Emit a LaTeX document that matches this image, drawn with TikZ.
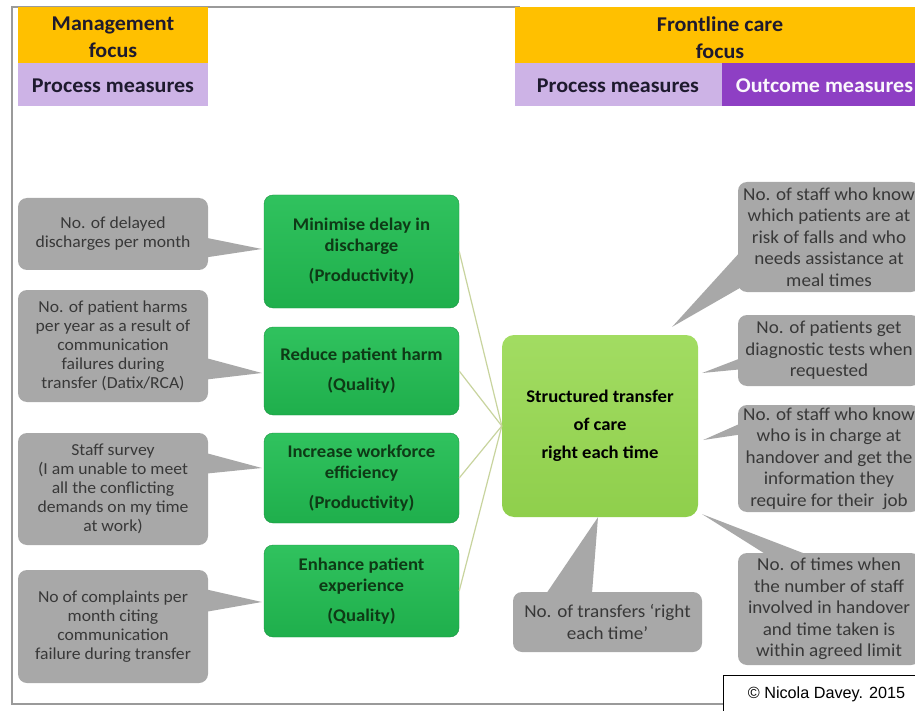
\documentclass[tikz,border=0pt]{standalone}
\usepackage{fontspec}
\setmainfont{Carlito}[FakeStretch=1.05]
\newfontfamily\arialfont{Liberation Sans}
\usetikzlibrary{calc}

\definecolor{hdrorange}{HTML}{FFC000}
\definecolor{hdrlav}{HTML}{CDB3E6}
\definecolor{hdrpurple}{HTML}{8E3FC4}
\definecolor{hdrtext}{HTML}{1E1A2E}
\definecolor{callgray}{HTML}{A8A8A8}
\definecolor{calltext}{HTML}{383838}
\definecolor{goalgreen}{HTML}{1FAF4C}
\definecolor{goaltop}{HTML}{30C25E}
\definecolor{goaltext}{HTML}{0E3A16}
\definecolor{hubgreen}{HTML}{8FCF4C}
\definecolor{hubtop}{HTML}{A2DC62}
\definecolor{linkline}{HTML}{C8D49E}
\definecolor{framegray}{HTML}{9A9A9A}

\tikzset{
  hdrcell/.style={inner sep=0pt, align=center, text=hdrtext, font=\bfseries\fontsize{21}{27}\selectfont},
  callout/.style={fill=callgray, rounded corners=9pt, inner sep=2pt, align=center,
    text=calltext, font=\fontsize{16.8}{19}\selectfont},
  callright/.style={callout, font=\fontsize{18.2}{21.5}\selectfont},
  pointer/.style={fill=callgray},
  goalbox/.style={rounded corners=9pt, top color=goaltop, bottom color=goalgreen,
    draw=goalgreen!85!black, line width=0.4pt, minimum width=195pt, align=center,
    text=goaltext, font=\bfseries\fontsize{17.8}{21}\selectfont},
  hubbox/.style={rounded corners=12pt, top color=hubtop, bottom color=hubgreen,
    minimum width=196pt, minimum height=182pt, align=center, text=black,
    font=\bfseries\fontsize{17.8}{28}\selectfont},
  link/.style={draw=linkline, line width=1.2pt},
}

\begin{document}
\begin{tikzpicture}[x=1pt,y=-1pt]
\useasboundingbox (0,0) rectangle (915,711);
\fill[white] (0,0) rectangle (915,711);

% outer frame
\draw[framegray, line width=1.2pt] (520,7) -- (12,7) -- (12,704) -- (730,704);

% header cells, left
\fill[hdrorange] (18,7) rectangle (208,63);
\fill[hdrlav] (18,63) rectangle (208,106);
\node[hdrcell] (hmgmt) at (113,37.5) {Management\\focus};
\node[hdrcell] (hmgmtproc) at (113,86) {Process measures};

% header cells, right
\fill[hdrorange] (515,7) rectangle (930,63);
\fill[hdrlav] (515,63) rectangle (722,106);
\fill[hdrpurple] (722,63) rectangle (935,106);
\node[hdrcell] (hfront) at (720,37.5) {Frontline care\\focus};
\node[hdrcell] (hfrontproc) at (618,86) {Process measures};
\node[hdrcell, text=white!90!hdrlav] (hfrontout) at (824.5,86) {Outcome measures};

% central goal
\node[hubbox] (C) at (600,426) {Structured transfer\\of care\\right each time};

% management goals
\node[goalbox, minimum height=113pt] (G1) at (361.5,251.5) {Minimise delay in\\discharge\\[9pt](Productivity)};
\node[goalbox, minimum height=88pt] (G2) at (361.5,371) {Reduce patient harm\\[9pt](Quality)};
\node[goalbox, minimum height=90pt] (G3) at (361.5,478) {Increase workforce\\efficiency\\[9pt](Productivity)};
\node[goalbox, minimum height=92pt] (G4) at (361.5,591) {Enhance patient\\experience\\[9pt](Quality)};

\foreach \g in {G1,G2,G3,G4} \draw[link] (\g.east) -- (C.west);

% process measures, management side
\node[callout, minimum width=190pt, minimum height=72pt] (L1) at (113,234)
  {No. of delayed\\discharges per month};
\node[callout, minimum width=190pt, minimum height=112pt] (L2) at (113,346)
  {No. of patient harms\\per year as a result of\\communication\\failures during\\transfer (Datix/RCA)};
\node[callout, minimum width=190pt, minimum height=112pt] (L3) at (113,489)
  {Staff survey\\(I am unable to meet\\all the conflicting\\demands on my time\\at work)};
\node[callout, minimum width=190pt, minimum height=113pt] (L4) at (113,626.5)
  {No of complaints per\\month citing\\communication\\failure during transfer};

\coordinate (tL1) at ($(G1.west)+(-2,-2.5)$);
\coordinate (tL2) at ($(G2.west)+(-2,2)$);
\coordinate (tL3) at ($(G3.west)+(-2,-10)$);
\coordinate (tL4) at ($(G4.west)+(-2,11)$);
\fill[pointer] ($(L1.east)+(-6,3)$) -- (tL1) -- ($(L1.east)+(-6,24)$) -- cycle;
\fill[pointer] ($(L2.east)+(-6,11)$) -- (tL2) -- ($(L2.east)+(-6,34)$) -- cycle;
\fill[pointer] ($(L3.east)+(-6,-37)$) -- (tL3) -- ($(L3.east)+(-6,-15)$) -- cycle;
\fill[pointer] ($(L4.east)+(-6,-38)$) -- (tL4) -- ($(L4.east)+(-6,-14)$) -- cycle;

% process and outcome measures, frontline side
\node[callright, minimum width=182pt, minimum height=110pt] (R1) at (829,237)
  {No. of staff who know\\which patients are at\\risk of falls and who\\needs assistance at\\meal times};
\node[callright, minimum width=182pt, minimum height=71pt] (R2) at (829,350.5)
  {No. of patients get\\diagnostic tests when\\requested};
\node[callright, minimum width=182pt, minimum height=107pt] (R3) at (829,458.5)
  {No. of staff who know\\who is in charge at\\handover and get the\\information they\\require for their \ job};
\node[callright, minimum width=182pt, minimum height=112pt] (R4) at (829,609)
  {No. of times when\\the number of staff\\involved in handover\\and time taken is\\within agreed limit};
\node[callright, minimum width=189pt, minimum height=60pt] (B) at (607.5,622)
  {No. of transfers `right\\each time'};

\coordinate (tR1) at ($(C.north east)+(-26,-8)$);
\coordinate (tR2) at ($(C.east)+(4,-53)$);
\coordinate (tR3) at ($(C.east)+(5,14)$);
\coordinate (tR4) at ($(C.south east)+(4,-3)$);
\coordinate (tB) at ($(C.south)+(-2,0)$);
\fill[pointer] ($(R1.west)+(6,11)$) -- (tR1) -- ($(R1.west)+(9,47)$) -- cycle;
\fill[pointer] ($(R2.west)+(6,6.5)$) -- (tR2) -- ($(R2.west)+(6,18.5)$) -- cycle;
\fill[pointer] ($(R3.west)+(6,-36.5)$) -- (tR3) -- ($(R3.west)+(6,-24.5)$) -- cycle;
\fill[pointer] ($(R4.north west)+(32,4)$) -- (tR4) -- ($(R4.north west)+(75,4)$) -- cycle;
\fill[pointer] ($(B.north west)+(32,4)$) -- (tB) -- ($(B.north west)+(79,4)$) -- cycle;

% copyright notice
\node[draw=black, line width=0.8pt, fill=white, minimum width=207pt, minimum height=38pt,
  font=\arialfont\fontsize{16.2}{18}\selectfont, inner sep=0pt] (copy) at (826.5,694)
  {\textcopyright\ Nicola Davey. 2015};
\end{tikzpicture}
\end{document}
